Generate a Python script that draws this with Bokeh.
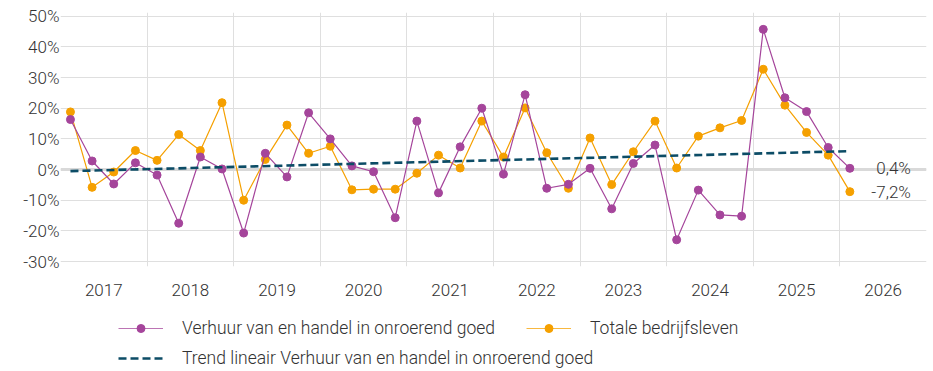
from bokeh.plotting import figure
from bokeh.layouts import column
from bokeh.models import FixedTicker, Span, Legend, LegendItem, ColumnDataSource, Range1d
from bokeh.core.properties import value
from bokeh.embed import file_html
from bokeh.resources import INLINE

# ---- data (quarterly, 2017 Q1 .. 2026 Q1), percentages ----
first_year = 2017
quarters = 37
verhuur = [16.3, 2.8, -4.7, 2.2, -1.8, -17.5, 4.1, 0.2, -20.7, 5.3, -2.4, 18.5,
           10.0, 1.2, -0.7, -15.7, 15.8, -7.6, 7.4, 20.0, -1.5, 24.4, -6.1, -4.8,
           0.4, -12.8, 2.0, 8.0, -22.9, -6.7, -14.8, -15.2, 45.7, 23.4, 18.9, 7.2, 0.4]
totaal = [18.8, -5.8, -0.8, 6.2, 3.0, 11.4, 6.2, 21.8, -10.0, 3.3, 14.5, 5.3,
          7.6, -6.6, -6.4, -6.4, -1.2, 4.7, 0.5, 15.8, 4.1, 20.1, 5.5, -6.1,
          10.3, -4.9, 5.8, 15.8, 0.5, 10.9, 13.6, 16.0, 32.7, 21.0, 12.1, 4.7, -7.2]
trend_ends = [-0.5, 6.0]   # linear trend of verhuur, first and last quarter
year_labels = [str(y) for y in range(2017, 2027)]
y_ticks = [-30, -20, -10, 0, 10, 20, 30, 40, 50]
end_labels = ["0,4%", "-7,2%"]
series_names = ["Verhuur van en handel in onroerend goed", "Totale bedrijfsleven",
                "Trend lineair Verhuur van en handel in onroerend goed"]

# x position: middle of each quarter's middle month, in years
xs = [first_year + 0.115 + 0.25 * i for i in range(quarters)]

PURPLE = "#a5459b"
ORANGE = "#f5a000"
TEAL = "#0c4c66"
GRID = "#dfdfdf"
TXT = "#333333"
FONT = "Roboto Light"

p = figure(width=933, height=300, output_backend="svg", toolbar_location=None,
           x_range=Range1d(2017, 2027), y_range=Range1d(-31.6, 51.2),
           min_border_left=60, min_border_right=7, min_border_top=12, min_border_bottom=34)
p.outline_line_color = None
p.background_fill_color = "white"

# axes
p.yaxis.ticker = FixedTicker(ticks=y_ticks)
p.yaxis.major_label_overrides = {t: f"{t}%" for t in y_ticks}
p.xaxis.ticker = FixedTicker(ticks=[int(y) + 0.5 for y in year_labels])
p.xaxis.major_label_overrides = {int(y) + 0.5: y for y in year_labels}
for ax in (p.xaxis[0], p.yaxis[0]):
    ax.axis_line_color = None
    ax.major_tick_line_color = None
    ax.minor_tick_line_color = None
    ax.major_tick_out = 0
    ax.minor_tick_out = 0
    ax.major_label_text_font = FONT
    ax.major_label_text_font_size = "17px"
    ax.major_label_text_color = TXT
p.yaxis.major_label_standoff = 1
p.xaxis.major_label_standoff = 17

# grids
p.ygrid.grid_line_color = GRID
p.ygrid.ticker = FixedTicker(ticks=y_ticks)
p.xgrid.ticker = FixedTicker(ticks=[int(y) for y in year_labels[1:]])
p.xgrid.grid_line_color = GRID

zero = Span(location=0, dimension="width", line_color="#d9d9d9", line_width=3, level="underlay")
p.add_layout(zero)

src = ColumnDataSource(dict(x=xs, v=verhuur, t=totaal))

p.line("x", "t", source=src, line_color=ORANGE, line_width=1.2)
p.scatter("x", "t", source=src, size=8, fill_color=ORANGE, line_color=ORANGE)
p.line("x", "v", source=src, line_color=PURPLE, line_width=1.2)
p.scatter("x", "v", source=src, size=8, fill_color=PURPLE, line_color=PURPLE)
p.line([xs[0], xs[-1]], trend_ends, line_color=TEAL, line_width=2.6, line_dash="8 4")

# end labels
p.text(x=[2026.82, 2026.82], y=[verhuur[-1], totaal[-1]], text=end_labels,
       text_align="right", text_baseline="middle", text_font=value(FONT),
       text_font_size="17px", text_color=TXT)

# ---- legend strip (separate figure below the chart; frames are aligned) ----
lf = figure(width=933, height=71, output_backend="svg", toolbar_location=None,
            x_range=Range1d(0, 1), y_range=Range1d(0, 1),
            min_border_left=0, min_border_right=0, min_border_top=0, min_border_bottom=0)
lf.axis.visible = False
lf.grid.visible = False
lf.outline_line_color = None

# legend-only renderers, placed outside the visible range
off = dict(x=[5, 6], y=[5, 6])
lv_l = lf.line("x", "y", source=ColumnDataSource(off), line_color=PURPLE, line_width=1.2, line_alpha=0.75)
lv_c = lf.scatter("x", "y", source=ColumnDataSource(off), size=8, fill_color=PURPLE, line_color=PURPLE)
lt_l = lf.line("x", "y", source=ColumnDataSource(off), line_color=ORANGE, line_width=1.2, line_alpha=0.75)
lt_c = lf.scatter("x", "y", source=ColumnDataSource(off), size=8, fill_color=ORANGE, line_color=ORANGE)
ltr = lf.line("x", "y", source=ColumnDataSource(off), line_color=TEAL, line_width=2.6, line_dash="8 4")


def style_legend(lg):
    lg.orientation = "horizontal"
    lg.label_text_font = FONT
    lg.label_text_font_size = "17.5px"
    lg.label_text_color = TXT
    lg.glyph_width = 45
    lg.glyph_height = 20
    lg.label_height = 20
    lg.label_standoff = 19
    lg.spacing = 31
    lg.padding = 0
    lg.margin = 0
    lg.border_line_color = None
    lg.background_fill_alpha = 0


leg1 = Legend(items=[
    LegendItem(label=series_names[0], renderers=[lv_l, lv_c]),
    LegendItem(label=series_names[1], renderers=[lt_l, lt_c]),
], location=(58, 33))
leg2 = Legend(items=[
    LegendItem(label=series_names[2], renderers=[ltr]),
], location=(58, 3))
style_legend(leg1)
style_legend(leg2)
lf.add_layout(leg1)
lf.add_layout(leg2)

layout = column(p, lf, spacing=0)
open("out.html", "w").write(file_html(layout, INLINE))
